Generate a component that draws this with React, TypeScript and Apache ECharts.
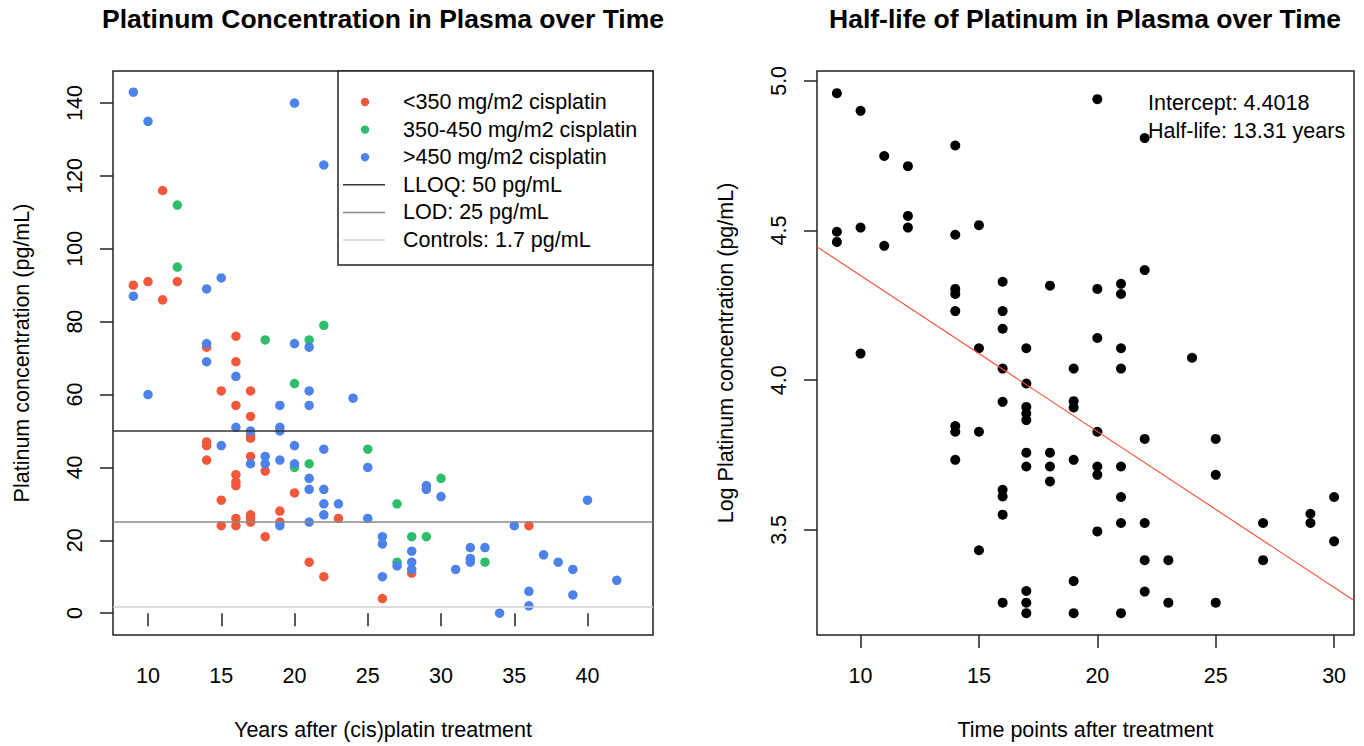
import React, { useEffect, useRef } from "react";
import * as echarts from "echarts";

const FONT = 'Arial, "Liberation Sans", Helvetica, sans-serif';

const leftTitle = "Platinum Concentration in Plasma over Time";
const rightTitle = "Half-life of Platinum in Plasma over Time";
const leftXName = "Years after (cis)platin treatment";
const leftYName = "Platinum concentration (pg/mL)";
const rightXName = "Time points after treatment";
const rightYName = "Log Platinum concentration (pg/mL)";

const groupNames = ["<350 mg/m2 cisplatin", "350-450 mg/m2 cisplatin", ">450 mg/m2 cisplatin"];
const groupColors = ["#F4583A", "#2EBD6B", "#4C82EA"];
const refLineNames = ["LLOQ: 50 pg/mL", "LOD: 25 pg/mL", "Controls: 1.7 pg/mL"];
const refLineValues = [50, 25, 1.7];
const refLineColors = ["#333333", "#8a8a8a", "#cfcfcf"];

// [years after treatment, platinum concentration pg/mL]
const lowDose: [number, number][] = [
  [9, 90], [10, 91], [11, 116], [11, 86], [12, 91], [14, 73], [14, 47], [14, 46], [14, 42],
  [15, 61], [15, 31], [15, 24], [16, 76], [16, 69], [16, 57], [16, 38], [16, 36], [16, 35],
  [16, 26], [16, 24], [17, 61], [17, 54], [17, 49], [17, 48], [17, 43], [17, 27], [17, 26],
  [17, 25], [18, 39], [18, 21], [19, 28], [19, 25], [20, 33], [21, 14], [22, 10], [23, 26],
  [26, 4], [28, 11], [36, 24],
];
const midDose: [number, number][] = [
  [12, 112], [12, 95], [18, 75], [20, 63], [20, 40], [21, 75], [21, 41], [22, 79], [25, 45],
  [27, 30], [27, 14], [28, 21], [29, 21], [30, 37], [33, 14],
];
const highDose: [number, number][] = [
  [9, 143], [9, 87], [10, 135], [10, 60], [14, 89], [14, 74], [14, 69], [15, 92], [15, 46],
  [16, 65], [16, 51], [17, 50], [17, 41], [18, 43], [18, 41], [19, 57], [19, 51], [19, 50],
  [19, 42], [19, 24], [20, 140], [20, 74], [20, 46], [20, 41], [21, 73], [21, 61], [21, 57],
  [21, 37], [21, 34], [21, 25], [22, 123], [22, 45], [22, 34], [22, 30], [22, 27], [23, 30],
  [24, 59], [25, 40], [25, 26], [26, 21], [26, 19], [26, 10], [27, 13], [28, 17], [28, 14],
  [28, 12], [29, 35], [29, 34], [30, 32], [31, 12], [32, 18], [32, 15], [32, 14], [33, 18],
  [34, 0], [35, 24], [36, 6], [36, 2], [37, 16], [38, 14], [39, 12], [39, 5], [40, 31], [42, 9],
];

// [time point, log platinum concentration]
const logPoints: [number, number][] = [
  [9, 4.959], [9, 4.496], [9, 4.462],
  [10, 4.90], [10, 4.51], [10, 4.089],
  [11, 4.749], [11, 4.449],
  [12, 4.715], [12, 4.549], [12, 4.51],
  [14, 4.784], [14, 4.486], [14, 4.305], [14, 4.288], [14, 4.231], [14, 3.847], [14, 3.828], [14, 3.734],
  [15, 4.518], [15, 4.107], [15, 3.828], [15, 3.432],
  [16, 4.329], [16, 4.231], [16, 4.172], [16, 4.039], [16, 3.928], [16, 3.634], [16, 3.612], [16, 3.551], [16, 3.257],
  [17, 4.107], [17, 3.989], [17, 3.911], [17, 3.889], [17, 3.867], [17, 3.758], [17, 3.712], [17, 3.296], [17, 3.257], [17, 3.222],
  [18, 4.316], [18, 3.758], [18, 3.712], [18, 3.662],
  [19, 4.039], [19, 3.930], [19, 3.909], [19, 3.734], [19, 3.329], [19, 3.222],
  [20, 4.939], [20, 4.305], [20, 4.141], [20, 3.828], [20, 3.712], [20, 3.684], [20, 3.495],
  [21, 4.322], [21, 4.288], [21, 4.107], [21, 4.039], [21, 3.712], [21, 3.610], [21, 3.523], [21, 3.222],
  [22, 4.809], [22, 4.368], [22, 3.804], [22, 3.523], [22, 3.399], [22, 3.294],
  [23, 3.399], [23, 3.257],
  [24, 4.075],
  [25, 3.804], [25, 3.684], [25, 3.257],
  [27, 3.523], [27, 3.399],
  [29, 3.554], [29, 3.523],
  [30, 3.610], [30, 3.462],
];

const yearTicks = [10, 15, 20, 25, 30, 35, 40];
const concTicks = [0, 20, 40, 60, 80, 100, 120, 140];
const timeTicks = [10, 15, 20, 25, 30];
const logTicks = [3.5, 4.0, 4.5, 5.0];

const fitIntercept = 4.4018;
const fitHalfLife = 13.31;
const fitStartTime = 9;
const annotationLines = ["Intercept: 4.4018", "Half-life: 13.31 years"];

const leftRange = { xMin: 7.61, xMax: 44.47, yMin: -6, yMax: 148.8 };
const rightRange = { xMin: 8.16, xMax: 30.84, yMin: 3.149, yMax: 5.033 };

export default function App() {
  const ref = useRef<HTMLDivElement>(null);

  useEffect(() => {
    if (!ref.current) return;
    const chart = echarts.init(ref.current, undefined, { renderer: "svg" });

    const fit = (t: number) => fitIntercept - (Math.LN2 / fitHalfLife) * (t - fitStartTime);
    const fitLine = [
      [rightRange.xMin, fit(rightRange.xMin)],
      [rightRange.xMax, fit(rightRange.xMax)],
    ];

    const baseText = { color: "#000", fontSize: 21.5, fontFamily: FONT };
    const tickStyle = { color: "#222", width: 1.5 };

    const makeX = (gridIndex: number, min: number, max: number, ticks: number[], name: string) => ({
      type: "value",
      gridIndex,
      min,
      max,
      axisLine: { show: false },
      splitLine: { show: false },
      axisTick: { show: true, length: 13, lineStyle: tickStyle, customValues: ticks },
      axisLabel: { ...baseText, lineHeight: 22, margin: 30, customValues: ticks },
      name,
      nameLocation: "middle",
      nameGap: 84,
      nameTextStyle: { ...baseText, lineHeight: 22 },
    });
    const makeY = (gridIndex: number, min: number, max: number, ticks: number[], name: string, fmt?: (v: number) => string) => ({
      type: "value",
      gridIndex,
      min,
      max,
      axisLine: { show: false },
      splitLine: { show: false },
      axisTick: { show: true, length: 13, lineStyle: tickStyle, customValues: ticks },
      axisLabel: {
        ...baseText,
        lineHeight: 22,
        rotate: 90,
        margin: 27,
        customValues: ticks,
        formatter: fmt ? (v: number) => fmt(v) : undefined,
      },
      name,
      nameLocation: "middle",
      nameGap: 80,
      nameTextStyle: { ...baseText, lineHeight: 22 },
    });

    const legendTop = 102;
    const legendStep = 27.6;
    const legendGraphics: any[] = [
      {
        type: "rect",
        shape: { x: 338, y: 71, width: 315, height: 194 },
        style: { fill: "#fff", stroke: "#222", lineWidth: 1.5 },
        z: 10,
      },
    ];
    groupNames.forEach((n, i) => {
      const y = legendTop + i * legendStep;
      legendGraphics.push({
        type: "circle",
        shape: { cx: 365, cy: y, r: 4.2 },
        style: { fill: groupColors[i] },
        z: 11,
      });
      legendGraphics.push({
        type: "text",
        x: 403,
        y,
        style: { text: n, fill: "#000", font: `21.5px ${FONT}`, verticalAlign: "middle", align: "left" },
        z: 11,
      });
    });
    refLineNames.forEach((n, i) => {
      const y = legendTop + (i + 3) * legendStep;
      legendGraphics.push({
        type: "line",
        shape: { x1: 343, y1: y, x2: 385, y2: y },
        style: { stroke: refLineColors[i], lineWidth: 1.5 },
        z: 11,
      });
      legendGraphics.push({
        type: "text",
        x: 403,
        y,
        style: { text: n, fill: "#000", font: `21.5px ${FONT}`, verticalAlign: "middle", align: "left" },
        z: 11,
      });
    });
    annotationLines.forEach((t, i) => {
      legendGraphics.push({
        type: "text",
        x: 1148,
        y: 103 + i * 28,
        style: { text: t, fill: "#000", font: `21.5px ${FONT}`, verticalAlign: "middle", align: "left" },
        z: 11,
      });
    });

    const option: any = {
      animation: false,
      backgroundColor: "#fff",
      textStyle: { fontFamily: FONT },
      title: [
        {
          text: leftTitle,
          left: 383,
          top: 5,
          padding: 0,
          textAlign: "center",
          textStyle: { color: "#000", fontSize: 26.5, fontWeight: "bold", fontFamily: FONT },
        },
        {
          text: rightTitle,
          left: 1085,
          top: 5,
          padding: 0,
          textAlign: "center",
          textStyle: { color: "#000", fontSize: 26.5, fontWeight: "bold", fontFamily: FONT },
        },
      ],
      grid: [
        { left: 113, top: 71, width: 540, height: 566, show: true, borderColor: "#222", borderWidth: 1.5, backgroundColor: "transparent" },
        { left: 817, top: 71, width: 537, height: 566, show: true, borderColor: "#222", borderWidth: 1.5, backgroundColor: "transparent" },
      ],
      xAxis: [
        makeX(0, leftRange.xMin, leftRange.xMax, yearTicks, leftXName),
        makeX(1, rightRange.xMin, rightRange.xMax, timeTicks, rightXName),
      ],
      yAxis: [
        makeY(0, leftRange.yMin, leftRange.yMax, concTicks, leftYName),
        makeY(1, rightRange.yMin, rightRange.yMax, logTicks, rightYName, (v) => v.toFixed(1)),
      ],
      graphic: legendGraphics,
      series: [
        {
          type: "scatter",
          name: groupNames[0],
          xAxisIndex: 0,
          yAxisIndex: 0,
          data: lowDose,
          symbolSize: 9.5,
          itemStyle: { color: groupColors[0], opacity: 1 },
          markLine: {
            silent: true,
            symbol: ["none", "none"],
            label: { show: false },
            animation: false,
            data: refLineValues.map((v, i) => ({
              name: refLineNames[i],
              yAxis: v,
              lineStyle: { color: refLineColors[i], width: 1.5, type: "solid" },
            })),
          },
        },
        {
          type: "scatter",
          name: groupNames[1],
          xAxisIndex: 0,
          yAxisIndex: 0,
          data: midDose,
          symbolSize: 9.5,
          itemStyle: { color: groupColors[1], opacity: 1 },
        },
        {
          type: "scatter",
          name: groupNames[2],
          xAxisIndex: 0,
          yAxisIndex: 0,
          data: highDose,
          symbolSize: 9.5,
          itemStyle: { color: groupColors[2], opacity: 1 },
        },
        {
          type: "scatter",
          name: "Log platinum",
          xAxisIndex: 1,
          yAxisIndex: 1,
          data: logPoints,
          symbolSize: 10,
          itemStyle: { color: "#000", opacity: 1 },
        },
        {
          type: "line",
          name: "Fit",
          xAxisIndex: 1,
          yAxisIndex: 1,
          data: fitLine,
          symbol: "none",
          lineStyle: { color: "#F4583A", width: 1.2 },
          clip: true,
        },
      ],
    };

    chart.setOption(option);
    return () => chart.dispose();
  }, []);

  return <div ref={ref} style={{ position: "absolute", left: 0, top: 0, width: 1364, height: 746 }} />;
}
